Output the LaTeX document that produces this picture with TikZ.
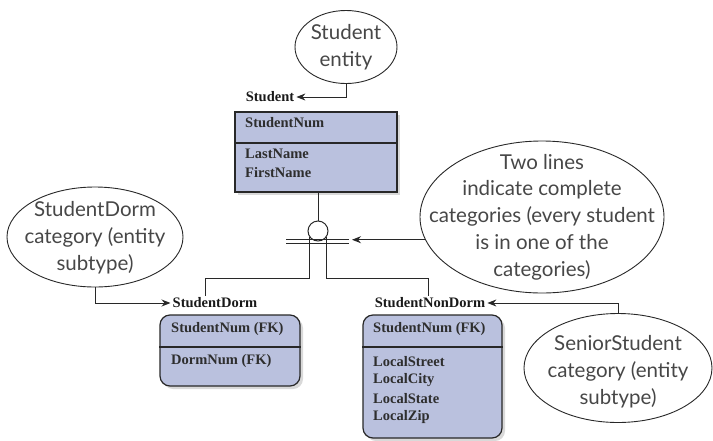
\documentclass[tikz,border=0pt]{standalone}
\usepackage{fontspec}
\usepackage{tikz}
\usetikzlibrary{arrows.meta,positioning,shapes.geometric,shadows}
\newfontfamily\bullefont{Lato}
\newfontfamily\champfont{Liberation Serif}
\definecolor{lavande}{RGB}{186,193,222}
\definecolor{trait}{RGB}{40,40,40}

\begin{document}
\begin{tikzpicture}[x=1pt, y=-1pt,
  bulle/.style={draw=trait, ellipse, inner sep=0pt, line width=0.9pt},
  bulletexte/.style={align=center, inner sep=0pt, text=black!72,
    font=\bullefont\fontsize{20.5}{26.8}\selectfont},
  entite/.style={draw=trait, line width=1.2pt, fill=lavande, inner sep=0pt,
    drop shadow={shadow xshift=3pt, shadow yshift=-3pt, opacity=0.3}},
  titre/.style={font=\champfont\bfseries\fontsize{14.5}{17}\selectfont, inner sep=2pt, text=black!90},
  attr/.style={anchor=west, inner sep=0pt, font=\champfont\bfseries\fontsize{14.5}{17}\selectfont, text=black!82},
  lien/.style={draw=trait, line width=1pt},
  fleche/.style={lien, -{Stealth[length=9pt,width=7pt]}}]
\useasboundingbox (0,0) rectangle (713,440);

% bulles
\node[bulle, minimum width=102pt, minimum height=73pt] (estudent) at (346,47) {};
\node[bulletexte] (tstudent) at (estudent) {Student\\entity};
\node[bulle, minimum width=176pt, minimum height=100pt] (edorm) at (95,237) {};
\node[bulletexte] (tdorm) at (95,238) {StudentDorm\\category (entity\\subtype)};
\node[bulle, minimum width=244pt, minimum height=152pt] (ecomplete) at (542,217) {};
\node[bulletexte] (tcomplete) at (ecomplete) {Two lines\\indicate complete\\categories (every student\\is in one of the\\categories)};
\node[bulle, minimum width=188pt, minimum height=109pt] (esenior) at (618,368) {};
\node[bulletexte] (tsenior) at (618,372) {SeniorStudent\\category (entity\\subtype)};

% entites
\node[titre] (lstudent) at (270,97) {Student};
\node[entite, minimum width=162pt, minimum height=80pt] (student) at (316,152) {};
\draw[lien, line width=1.2pt] (student.west |- 0,143) -- (student.east |- 0,143);
\node[attr] at (245,123) {StudentNum};
\node[attr] at (245,154) {LastName};
\node[attr] at (245,173) {FirstName};

\node[titre] (ldorm) at (215,303) {StudentDorm};
\node[entite, rounded corners=10pt, minimum width=140pt, minimum height=71pt] (dorm) at (230,350.5) {};
\draw[lien, line width=1.2pt] (dorm.west |- 0,347) -- (dorm.east |- 0,347);
\node[attr] at (171,329) {StudentNum (FK)};
\node[attr] at (171,361) {DormNum (FK)};

\node[titre] (lnondorm) at (430,303) {StudentNonDorm};
\node[entite, rounded corners=10pt, minimum width=139pt, minimum height=123pt] (nondorm) at (432.5,376.5) {};
\draw[lien, line width=1.2pt] (nondorm.west |- 0,347) -- (nondorm.east |- 0,347);
\node[attr] at (373,329) {StudentNum (FK)};
\foreach \a [count=\i] in {LocalStreet,LocalCity,LocalState,LocalZip}
  \node[attr] at (373, 342.5+\i*18.6) {\a};

% categorie complete
\node[draw=trait, circle, minimum size=20pt, inner sep=0pt, line width=1pt, fill=white] (cat) at (318,231) {};
\draw[lien] (cat.north |- student.south) -- (cat.north);
\draw[lien] (286,239) -- (349,239);
\draw[lien] (286,243) -- (349,243);
\coordinate (jdorm) at (205,278);
\coordinate (jnondorm) at (428,278);
\coordinate (pointe) at (352,240);
\draw[lien] (cat.217) |- (jdorm) -- (jdorm |- ldorm.north);
\draw[lien] (cat.323) |- (jnondorm) -- (jnondorm |- lnondorm.north);

% fleches des bulles
\draw[fleche] (estudent.south) |- (lstudent.east);
\draw[fleche] (edorm.south) |- (ldorm.west);
\draw[fleche] (ecomplete.191) -- (pointe |- ecomplete.191);
\draw[fleche] (esenior.north) |- (lnondorm.east);
\end{tikzpicture}
\end{document}
